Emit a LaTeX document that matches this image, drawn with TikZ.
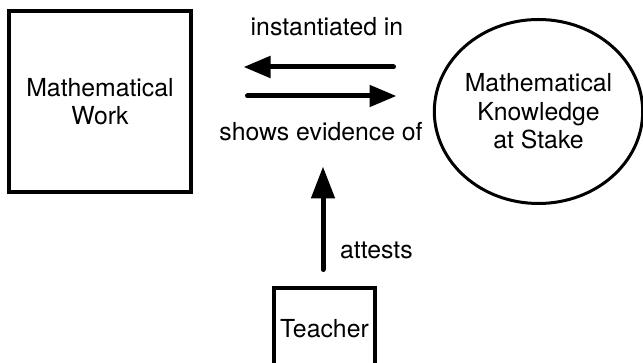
\documentclass[tikz,border=0pt]{standalone}
\usepackage{fontspec}
\setmainfont{TeX Gyre Heros}
\usetikzlibrary{arrows.meta,shapes.geometric,positioning}

\begin{document}
\begin{tikzpicture}[x=1pt, y=1pt,
  font=\fontsize{24.8}{28.5}\selectfont,
  block/.style={draw, line width=4pt, align=center, inner sep=0pt},
  link/.style={line width=5pt, line cap=round,
    -{Triangle[length=27pt,width=21pt]}},
  lbl/.style={inner sep=0pt}]
  \clip (0,0) rectangle (643,363);
        \node [block, minimum width=182pt, minimum height=181pt] (work) at (100,261.5) {Mathematical\\Work};
        \node [ellipse, draw, line width=3pt, align=center, inner sep=0pt,
          minimum width=203pt, minimum height=184pt] (stake) at (538.5,251.5) {Mathematical\\Knowledge\\at Stake};
        \node [block, minimum width=101pt, minimum height=82pt] (teacher) at (324.5,34) {Teacher};
        % loose ends of the arrows in the middle
        \coordinate (inst-from) at (393.5,296);
        \coordinate (inst-to) at (243.5,296);
        \coordinate (shows-from) at (247.5,267);
        \coordinate (shows-to) at (396.5,267);
        \coordinate (attest-to) at (323,196.5);
        \draw [link] (inst-from) -- (inst-to);
        \draw [link] (shows-from) -- (shows-to);
        \draw [link, -{Triangle[length=32pt,width=23pt]}, shorten <=16.5pt] (teacher.north -| attest-to) -- (attest-to);
        \node [lbl] (inst-lbl) at (327,336) {instantiated in};
        \node [lbl] (shows-lbl) at (321,231) {shows evidence of};
        \node [lbl, anchor=west] (attest-lbl) at (340,113) {attests};
    \end{tikzpicture}
\end{document}
